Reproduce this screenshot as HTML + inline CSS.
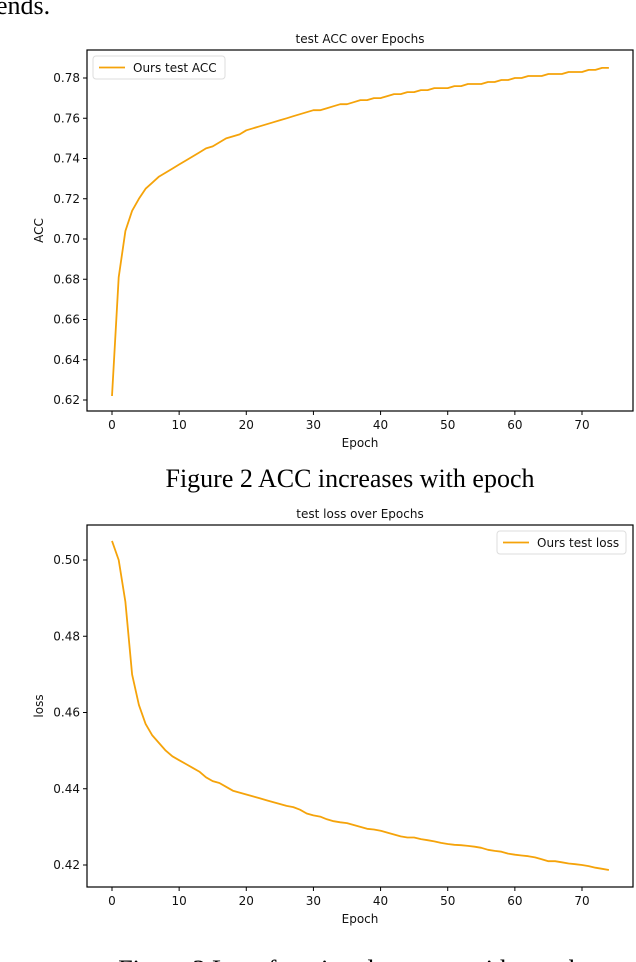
<!DOCTYPE html>
<html><head><meta charset="utf-8">
<style>
html,body{margin:0;padding:0;background:#fff;width:636px;height:962px;overflow:hidden}
svg{display:block}
.t{font-family:"DejaVu Sans","Liberation Sans",sans-serif;font-size:12px;fill:#111}
.s{font-family:"Liberation Serif",serif;fill:#000}
</style></head>
<body>
<svg id="fig" width="636" height="962" viewBox="0 0 636 962">
<text class="s" x="-4" y="14" font-size="26">ends.</text>
<text class="s" x="350" y="487" font-size="26" text-anchor="middle">Figure 2 ACC increases with epoch</text>
<text class="s" x="350" y="978" font-size="26" text-anchor="middle">Figure 3 Loss function decreases with epoch</text>
</svg>
<script>
const epochs = Array.from({length:75},(_, i)=>i);
const accValues = [0.622,0.681,0.704,0.714,0.720,0.725,0.728,0.731,0.733,0.735,0.737,0.739,0.741,0.743,0.745,0.746,0.748,0.750,0.751,0.752,0.754,0.755,0.756,0.757,0.758,0.759,0.760,0.761,0.762,0.763,0.764,0.764,0.765,0.766,0.767,0.767,0.768,0.769,0.769,0.770,0.770,0.771,0.772,0.772,0.773,0.773,0.774,0.774,0.775,0.775,0.775,0.776,0.776,0.777,0.777,0.777,0.778,0.778,0.779,0.779,0.780,0.780,0.781,0.781,0.781,0.782,0.782,0.782,0.783,0.783,0.783,0.784,0.784,0.785,0.785];
const lossValues = [0.505,0.500,0.489,0.470,0.462,0.457,0.454,0.452,0.450,0.4485,0.4475,0.4465,0.4455,0.4445,0.443,0.442,0.4415,0.4405,0.4395,0.439,0.4385,0.438,0.4375,0.437,0.4365,0.436,0.4355,0.4352,0.4345,0.4335,0.433,0.4327,0.432,0.4315,0.4312,0.431,0.4305,0.430,0.4295,0.4293,0.429,0.4285,0.428,0.4275,0.4272,0.4272,0.4268,0.4265,0.4262,0.4258,0.4255,0.4253,0.4252,0.425,0.4248,0.4245,0.424,0.4237,0.4235,0.423,0.4227,0.4225,0.4223,0.422,0.4215,0.421,0.421,0.4207,0.4204,0.4202,0.420,0.4197,0.4193,0.419,0.4187];
const xTicks = [0,10,20,30,40,50,60,70];
const accTicks = [0.62,0.64,0.66,0.68,0.70,0.72,0.74,0.76,0.78];
const lossTicks = [0.42,0.44,0.46,0.48,0.50];

const NS='http://www.w3.org/2000/svg';
const svg=document.getElementById('fig');
function mk(tag,attrs,parent,txt){const e=document.createElementNS(NS,tag);for(const k in attrs)e.setAttribute(k,attrs[k]);if(txt!==undefined)e.textContent=txt;(parent||svg).appendChild(e);return e;}

function chart(cfg){
  const g=mk('g',{});
  
  
  const L=87,R=633,T=cfg.top,B=cfg.bottom;
  const xs=v=>112+(v)*(582-112)/70;
  const ys=v=>cfg.y0px+(v-cfg.y0)*(cfg.y1px-cfg.y0px)/(cfg.y1-cfg.y0);
  const t=mk('text',{x:(L+R)/2,y:T-7,'text-anchor':'middle',class:'t','font-size':'13'},g,cfg.title);
  
  
  xTicks.forEach(v=>{
    const x=xs(v);
    mk('line',{x1:x,x2:x,y1:B,y2:B+4,stroke:'#000','stroke-width':1},g);
    const lb=mk('text',{x:x,y:B+18,'text-anchor':'middle',class:'t'},g,String(v));
    
    
  });
  cfg.ticks.forEach(v=>{
    const y=ys(v);
    mk('line',{x1:L-4,x2:L,y1:y,y2:y,stroke:'#000','stroke-width':1},g);
    const lb=mk('text',{x:L-7,y:y+4,'text-anchor':'end',class:'t'},g,v.toFixed(2));
    
    
  });
  const xl=mk('text',{x:(L+R)/2,y:B+36,'text-anchor':'middle',class:'t'},g,'Epoch');
  
  
  const yl=mk('text',{x:0,y:0,'text-anchor':'middle',class:'t',transform:`translate(43,${(T+B)/2}) rotate(-90)`},g,cfg.ylabel);
  
  
  const pts=epochs.map((e,i)=>xs(e).toFixed(1)+','+ys(cfg.values[i]).toFixed(1)).join(' ');
  const pl=mk('polyline',{points:pts,fill:'none',stroke:'#f5a30a','stroke-width':1.8,'stroke-linejoin':'round'},g);
  
  
  mk('rect',{x:L,y:T,width:R-L,height:B-T,fill:'none',stroke:'#000','stroke-width':1.2},g);
  const lg=mk('g',{},g);
  
  
  mk('rect',{x:cfg.lx,y:cfg.ly,width:cfg.lw,height:23,rx:3,fill:'#fff',stroke:'#ddd'},lg);
  mk('line',{x1:cfg.lx+6,x2:cfg.lx+32,y1:cfg.ly+11.5,y2:cfg.ly+11.5,stroke:'#f5a30a','stroke-width':1.8},lg);
  mk('text',{x:cfg.lx+40,y:cfg.ly+16,class:'t'},lg,cfg.legend);
}
chart({name:'acc-chart',title:'test ACC over Epochs',top:50,bottom:411,ticks:accTicks,values:accValues,y0:0.62,y1:0.78,y0px:400,y1px:78,ylabel:'ACC',legend:'Ours test ACC',lx:93,ly:56,lw:132});
chart({name:'loss-chart',title:'test loss over Epochs',top:525,bottom:887,ticks:lossTicks,values:lossValues,y0:0.42,y1:0.50,y0px:865,y1px:560,ylabel:'loss',legend:'Ours test loss',lx:497,ly:531,lw:129});
</script>
</body></html>
